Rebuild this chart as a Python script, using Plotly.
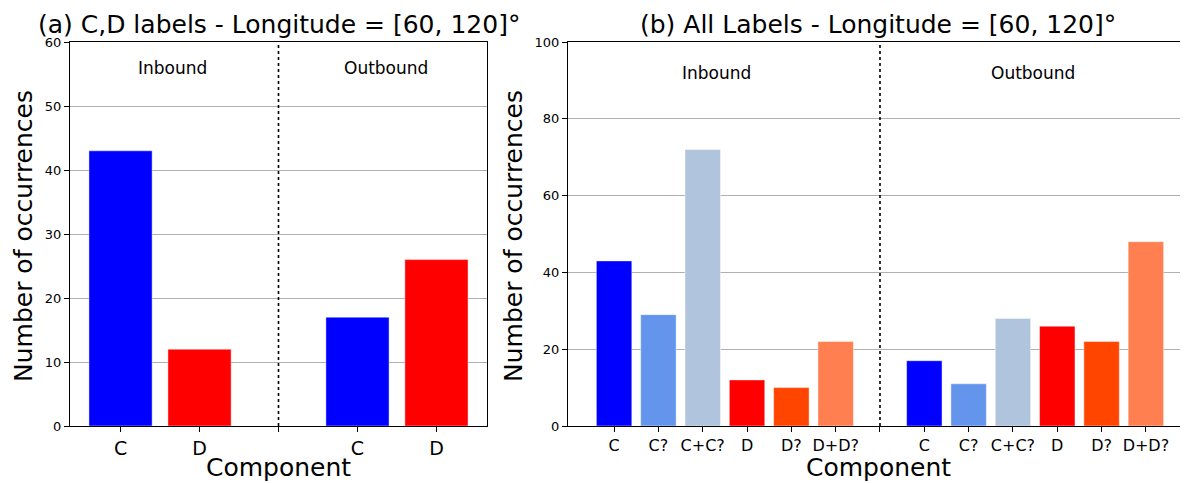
import plotly.graph_objects as go

# ---------------- data ----------------
left_categories = ["C", "D"]
left_inbound = [43, 12]
left_outbound = [17, 26]
left_colors = ["#0000ff", "#ff0000"]

right_categories = ["C", "C?", "C+C?", "D", "D?", "D+D?"]
right_inbound = [43, 29, 72, 12, 10, 22]
right_outbound = [17, 11, 28, 26, 22, 48]
right_colors = ["#0000ff", "#6495ed", "#b0c4de", "#ff0000", "#ff4500", "#ff7f50"]

title_a = "(a) C,D labels - Longitude = [60, 120]°"
title_b = "(b) All Labels - Longitude = [60, 120]°"
xlabel = "Component"
ylabel = "Number of occurrences"

# ---------------- layout constants ----------------
OFF = 8                      # page body margin of the html page
W, H = 1188 - OFF, 483 - OFF
FONT = "DejaVu Sans"
EDGE = "rgba(255,255,255,0.45)"


def py(p):
    return 1 - (p - OFF) / H


def px(p):
    return (p - OFF) / W


fig = go.Figure()

# positions: inbound group, then a gap slot for the divider, then outbound group
nL = len(left_categories)
xL_in = list(range(nL))
xL_div = nL
xL_out = [nL + 1 + i for i in range(nL)]

nR = len(right_categories)
xR_in = list(range(nR))
xR_div = nR
xR_out = [nR + 1 + i for i in range(nR)]

fig.add_trace(go.Bar(x=xL_in, y=left_inbound, width=0.8, marker=dict(color=left_colors, line=dict(color=EDGE, width=1)),
                     xaxis="x", yaxis="y", showlegend=False))
fig.add_trace(go.Bar(x=xL_out, y=left_outbound, width=0.8, marker=dict(color=left_colors, line=dict(color=EDGE, width=1)),
                     xaxis="x", yaxis="y", showlegend=False))
fig.add_trace(go.Bar(x=xR_in, y=right_inbound, width=0.8, marker=dict(color=right_colors, line=dict(color=EDGE, width=1)),
                     xaxis="x2", yaxis="y2", showlegend=False))
fig.add_trace(go.Bar(x=xR_out, y=right_outbound, width=0.8, marker=dict(color=right_colors, line=dict(color=EDGE, width=1)),
                     xaxis="x2", yaxis="y2", showlegend=False))

ydom = [py(426), py(42)]
common_axis = dict(showline=True, linecolor="black", linewidth=1, ticks="outside", ticklen=5,
                   tickcolor="black", tickwidth=1, zeroline=False, automargin=False)

fig.update_layout(
    width=W, height=H,
    margin=dict(l=0, r=0, t=0, b=0),
    paper_bgcolor="white", plot_bgcolor="white",
    font=dict(family=FONT, color="black"),
    barmode="overlay",
    xaxis=dict(domain=[px(70), px(487)], range=[-0.64, 4.64], anchor="y",
               tickvals=xL_in + [xL_div] + xL_out,
               ticktext=left_categories + [""] + left_categories,
               tickfont=dict(size=19), mirror=True, showgrid=False, **common_axis),
    yaxis=dict(domain=ydom, range=[0, 60], dtick=10, anchor="x",
               tickfont=dict(size=13), mirror=True, showgrid=True, gridcolor="#b0b0b0", gridwidth=1,
               layer="above traces", **common_axis),
    xaxis2=dict(domain=[px(568), 1.0], range=[-1.04, 12.95], anchor="y2",
                tickvals=xR_in + [xR_div] + xR_out,
                ticktext=right_categories + [""] + right_categories,
                tickfont=dict(size=16), mirror=True, showgrid=False, **common_axis),
    yaxis2=dict(domain=ydom, range=[0, 100], dtick=20, anchor="x2",
                tickfont=dict(size=13), mirror=False, showgrid=True, gridcolor="#b0b0b0", gridwidth=1,
                layer="above traces", **common_axis),
)

# dotted dividers
for xr, yr, xd in [("x", "y domain", xL_div), ("x2", "y2 domain", xR_div)]:
    fig.add_shape(type="line", xref=xr, yref=yr, x0=xd, x1=xd, y0=0, y1=1,
                  line=dict(color="black", width=1.6, dash="dot"))

ann = []
# titles
ann.append(dict(text=title_a, xref="x domain", yref="paper", x=0.5, y=py(41), xanchor="center", yanchor="bottom",
                showarrow=False, font=dict(size=25)))
ann.append(dict(text=title_b, xref="x2 domain", yref="paper", x=0.5, y=py(41), xanchor="center", yanchor="bottom",
                showarrow=False, font=dict(size=25)))
# axis titles
ann.append(dict(text=xlabel, xref="x domain", yref="paper", x=0.5, y=0, xanchor="center", yanchor="bottom",
                yshift=-1, showarrow=False, font=dict(size=25)))
ann.append(dict(text=xlabel, xref="x2 domain", yref="paper", x=0.5, y=0, xanchor="center", yanchor="bottom",
                yshift=-1, showarrow=False, font=dict(size=25)))
ann.append(dict(text=ylabel, xref="paper", yref="paper", x=px(23), y=py(236), xanchor="center", yanchor="middle",
                textangle=-90, showarrow=False, font=dict(size=25)))
ann.append(dict(text=ylabel, xref="paper", yref="paper", x=px(513), y=py(236), xanchor="center", yanchor="middle",
                textangle=-90, showarrow=False, font=dict(size=25)))
# Inbound / Outbound labels
ann.append(dict(text="Inbound", xref="x domain", yref="y", x=0.247, y=56, xanchor="center", yanchor="middle",
                showarrow=False, font=dict(size=17)))
ann.append(dict(text="Outbound", xref="x domain", yref="y", x=0.758, y=56, xanchor="center", yanchor="middle",
                showarrow=False, font=dict(size=17)))
ann.append(dict(text="Inbound", xref="x2 domain", yref="y2", x=0.24, y=92, xanchor="center", yanchor="middle",
                showarrow=False, font=dict(size=17)))
ann.append(dict(text="Outbound", xref="x2 domain", yref="y2", x=0.75, y=92, xanchor="center", yanchor="middle",
                showarrow=False, font=dict(size=17)))
fig.update_layout(annotations=ann)

fig.write_html("out.html")
